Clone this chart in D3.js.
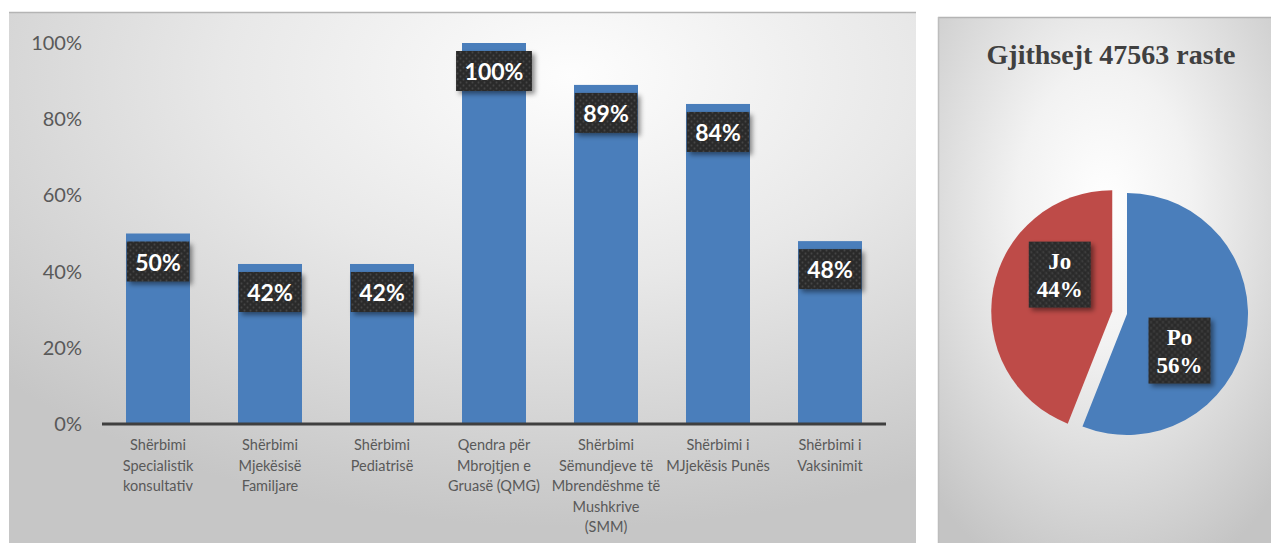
<!DOCTYPE html>
<html>
<head>
<meta charset="utf-8">
<script src="https://cdnjs.cloudflare.com/ajax/libs/d3/7.8.5/d3.min.js"></script>
<style>
  html, body { margin: 0; padding: 0; background: #ffffff; }
  svg { display: block; }
</style>
</head>
<body>
<svg id="chart" width="1271" height="543"></svg>
<script>
// Bar chart: share per service
const categories = [
  "Shërbimi\nSpecialistik\nkonsultativ",
  "Shërbimi\nMjekësisë\nFamiljare",
  "Shërbimi\nPediatrisë",
  "Qendra për\nMbrojtjen e\nGruasë (QMG)",
  "Shërbimi\nSëmundjeve të\nMbrendëshme të\nMushkrive\n(SMM)",
  "Shërbimi i\nMJjekësis Punës",
  "Shërbimi i\nVaksinimit"
];
const values = [0.50, 0.42, 0.42, 1.00, 0.89, 0.84, 0.48];
const yTicks = [0, 0.2, 0.4, 0.6, 0.8, 1.0];

// Pie chart: totals
const pieTitle = "Gjithsejt 47563 raste";
const pieLabels = ["Po", "Jo"];
const pieValues = [56, 44];
const pieColors = ["#4a7ebb", "#be4b48"];

const svg = d3.select("#chart");
const defs = svg.append("defs");

// Panel backgrounds
const g1 = defs.append("radialGradient").attr("id", "bgLeft")
  .attr("cx", 0.62).attr("cy", 0.12).attr("r", 0.85).attr("fx", 0.62).attr("fy", 0.12);
g1.append("stop").attr("offset", 0).attr("stop-color", "#fdfdfd");
g1.append("stop").attr("offset", 0.45).attr("stop-color", "#e8e8e8");
g1.append("stop").attr("offset", 1).attr("stop-color", "#c6c6c6");

const g2 = defs.append("radialGradient").attr("id", "bgRight")
  .attr("cx", 0.5).attr("cy", 0.36).attr("r", 0.75).attr("fx", 0.5).attr("fy", 0.36);
g2.append("stop").attr("offset", 0).attr("stop-color", "#ffffff");
g2.append("stop").attr("offset", 0.35).attr("stop-color", "#f2f2f2");
g2.append("stop").attr("offset", 1).attr("stop-color", "#c4c4c4");

// Dotted dark fill for data labels
const pat = defs.append("pattern").attr("id", "dots")
  .attr("width", 6).attr("height", 6).attr("patternUnits", "userSpaceOnUse");
pat.append("rect").attr("width", 6).attr("height", 6).attr("fill", "#2c2c2c");
pat.append("circle").attr("cx", 1.5).attr("cy", 1.5).attr("r", 0.9).attr("fill", "#454545");
pat.append("circle").attr("cx", 4.5).attr("cy", 4.5).attr("r", 0.9).attr("fill", "#454545");

const sh = defs.append("filter").attr("id", "shadow")
  .attr("x", "-30%").attr("y", "-30%").attr("width", "160%").attr("height", "160%");
sh.append("feDropShadow").attr("dx", 3).attr("dy", 3).attr("stdDeviation", 2.5)
  .attr("flood-color", "#000").attr("flood-opacity", 0.45);

// ---------- Left panel: bars ----------
svg.append("rect").attr("x", 9).attr("y", 12).attr("width", 907).attr("height", 531)
  .attr("fill", "url(#bgLeft)");
svg.append("line").attr("x1", 9).attr("x2", 916).attr("y1", 12.5).attr("y2", 12.5)
  .attr("stroke", "#b4b4b4").attr("stroke-width", 1.5);

const x = d3.scaleBand().domain(categories).range([102, 886])
  .paddingInner(48 / 112).paddingOuter(24 / 112);
const y = d3.scaleLinear().domain([0, 1]).range([424, 43]);

const yAxis = svg.append("g").attr("transform", "translate(82,0)")
  .call(d3.axisLeft(y).tickValues(yTicks).tickSize(0).tickPadding(0).tickFormat(d3.format(".0%")));
yAxis.select(".domain").remove();
yAxis.selectAll("text")
  .attr("font-family", "Lato, 'Open Sans', sans-serif")
  .attr("font-size", 20).attr("fill", "#595959");

svg.append("g").selectAll("rect").data(values).join("rect")
  .attr("x", (d, i) => x(categories[i]))
  .attr("y", d => y(d))
  .attr("width", x.bandwidth())
  .attr("height", d => y(0) - y(d))
  .attr("fill", "#4a7ebb");

svg.append("line").attr("x1", x.range()[0]).attr("x2", x.range()[1])
  .attr("y1", y(0)).attr("y2", y(0))
  .attr("stroke", "#3f3f3f").attr("stroke-width", 3);

// category labels
const catG = svg.append("g")
  .attr("font-family", "Lato, 'Open Sans', sans-serif")
  .attr("font-size", 14.5).attr("fill", "#595959").attr("text-anchor", "middle");
categories.forEach(c => {
  const t = catG.append("text").attr("x", x(c) + x.bandwidth() / 2).attr("y", 450);
  c.split("\n").forEach((line, k) => {
    t.append("tspan").attr("x", x(c) + x.bandwidth() / 2).attr("dy", k === 0 ? 0 : 20.5).text(line);
  });
});

// value labels
const fmt = d3.format(".0%");
values.forEach((v, i) => {
  const cx = x(categories[i]) + x.bandwidth() / 2;
  const g = svg.append("g");
  const box = g.append("rect").attr("fill", "url(#dots)").attr("filter", "url(#shadow)");
  const txt = g.append("text").attr("x", cx).attr("y", y(v) + 28)
    .attr("text-anchor", "middle").attr("dominant-baseline", "central")
    .attr("font-family", "Lato, 'Open Sans', sans-serif").attr("font-weight", 700)
    .attr("font-size", 23).attr("fill", "#ffffff").text(fmt(v));
  const w = txt.node().getComputedTextLength() + 17;
  box.attr("x", cx - w / 2).attr("y", y(v) + 8).attr("width", w).attr("height", 40);
});

// ---------- Right panel: pie ----------
svg.append("rect").attr("x", 938).attr("y", 17).attr("width", 333).attr("height", 526)
  .attr("fill", "url(#bgRight)");
svg.append("line").attr("x1", 938).attr("x2", 1271).attr("y1", 17.5).attr("y2", 17.5)
  .attr("stroke", "#b4b4b4").attr("stroke-width", 1.5);
svg.append("line").attr("x1", 938.5).attr("x2", 938.5).attr("y1", 17).attr("y2", 543)
  .attr("stroke", "#bdbdbd").attr("stroke-width", 1.5);

svg.append("text").attr("x", 1111).attr("y", 64).attr("text-anchor", "middle")
  .attr("font-family", "'Liberation Serif', 'DejaVu Serif', serif").attr("font-weight", 700)
  .attr("font-size", 28).attr("fill", "#404040").text(pieTitle);

const pcx = 1127, pcy = 314, R = 121;
const pie = d3.pie().sort(null).value(d => d);
const arcs = pie(pieValues);
const arc = d3.arc().innerRadius(0).outerRadius(R);
const explode = [0, 15];
const pg = svg.append("g").attr("transform", `translate(${pcx},${pcy})`);

arcs.forEach((a, i) => {
  const mid = (a.startAngle + a.endAngle) / 2;
  const ox = Math.sin(mid) * explode[i], oy = -Math.cos(mid) * explode[i];
  const sg = pg.append("g").attr("transform", `translate(${ox},${oy})`);
  sg.append("path").attr("d", arc(a)).attr("fill", pieColors[i]);

  const la = mid + 0.42, lr = 64;
  const lx = Math.sin(la) * lr, ly = -Math.cos(la) * lr;
  const lg = sg.append("g").attr("transform", `translate(${lx},${ly})`);
  lg.append("rect").attr("x", -31).attr("y", -33).attr("width", 62).attr("height", 66)
    .attr("fill", "url(#dots)").attr("filter", "url(#shadow)");
  const t = lg.append("text").attr("text-anchor", "middle")
    .attr("font-family", "'Liberation Serif', 'DejaVu Serif', serif").attr("font-weight", 700)
    .attr("font-size", 23).attr("fill", "#ffffff");
  t.append("tspan").attr("x", 0).attr("y", -6).text(pieLabels[i]);
  t.append("tspan").attr("x", 0).attr("y", 22).text(pieValues[i] + "%");
});
</script>
</body>
</html>
